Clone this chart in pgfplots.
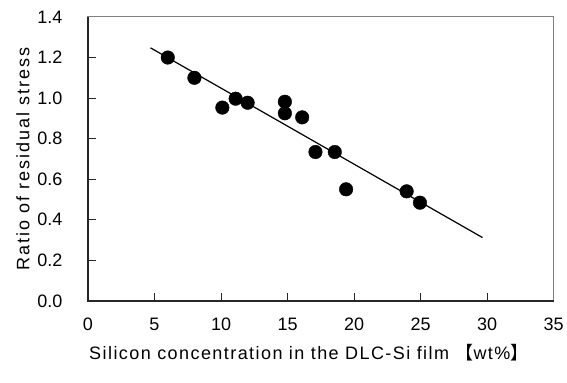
\documentclass[border=0pt]{standalone}
\usepackage{pgfplots}
\pgfplotsset{compat=1.18}
\usepackage{fontspec}
\setmainfont{Liberation Sans}
\newfontfamily\cjk{Noto Sans CJK JP}
\begin{document}
\begin{tikzpicture}
\begin{axis}[
  scale only axis, width=466bp, height=284bp,
  xmin=0, xmax=35, ymin=0, ymax=1.4,
  xtick={0,5,...,35}, ytick={0,0.2,0.4,0.6,0.8,1.0,1.2,1.4},
  /pgf/number format/assume math mode=true,
  y tick label style={/pgf/number format/fixed, /pgf/number format/fixed zerofill, /pgf/number format/precision=1},
  yticklabel shift=22bp,
  xticklabel shift=14bp,
  ticklabel style={font=\fontsize{18bp}{20bp}\selectfont},
  tick align=inside, xtick pos=bottom, ytick pos=left,
  major tick length=8bp,
  tick style={black!85, line width=1bp},
  axis line style={draw=black!50, line width=1bp},
  xlabel={Silicon concentration in the DLC-Si film {\cjk【}wt\%{\cjk】}},
  ylabel={Ratio of residual stress},
  xlabel style={font=\fontsize{18bp}{20bp}\selectfont\addfontfeature{LetterSpace=8}, yshift=-6bp, xshift=-12bp},
  ylabel style={font=\fontsize{18bp}{20bp}\selectfont\addfontfeature{LetterSpace=11}, yshift=1bp},
  clip=false,
]
\addplot[black, line width=1.2bp, no marks] coordinates {(4.7,1.248) (29.65,0.312)};
\addplot[only marks, mark=*, mark size=6.8bp, mark options={fill=black, draw=black}] coordinates {
(6.0,1.20) (8.0,1.10) (10.1,0.953) (11.1,0.997) (12.0,0.977)
(14.8,0.982) (14.8,0.925) (16.1,0.905) (17.1,0.734) (18.55,0.734)
(19.4,0.55) (23.95,0.54) (24.95,0.484)
};
\draw[black!85, line width=1.5bp] (rel axis cs:0,1) -- (rel axis cs:0,0) -- (rel axis cs:1,0);
\coordinate (sw) at (rel axis cs:0,0);
\end{axis}
\path (sw) ++(-88bp,-82bp) rectangle ++(567bp,383bp);
\end{tikzpicture}
\end{document}
